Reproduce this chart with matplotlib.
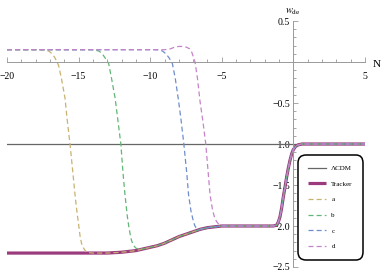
import matplotlib
matplotlib.use("Agg")
import matplotlib.pyplot as plt
from matplotlib.ticker import FixedLocator, MultipleLocator, NullFormatter

plt.rcParams.update({
    'font.family': 'serif',
    'font.serif': ['Liberation Serif', 'DejaVu Serif'],
    'mathtext.fontset': 'stix',
})

# values (N, w_de)
lcdm_N = [-20, 5]
lcdm_w = [-1.0, -1.0]

tracker_N = [-20, -13, -12, -11, -10.5, -10, -9.5, -9, -8.5, -8, -7.5, -7, -6.5,
             -6, -5.5, -5, -3, -1.4, -1.17, -1.05, -0.94, -0.82, -0.7, -0.58,
             -0.47, -0.35, -0.24, -0.12, -0.01, 0.15, 0.34, 0.6, 5]
tracker_w = [-2.33, -2.33, -2.32, -2.30, -2.28, -2.26, -2.24, -2.21, -2.17,
             -2.13, -2.10, -2.07, -2.04, -2.02, -2.01, -2.0, -2.0, -2.0, -1.99,
             -1.95, -1.89, -1.78, -1.64, -1.52, -1.40, -1.29, -1.20, -1.12,
             -1.07, -1.03, -1.01, -1.0, -1.0]

a_N = [-20, -17.6, -17.3, -17.05, -16.85, -16.65, -16.4, -16.2, -15.95, -15.8,
       -15.6, -15.4, -15.25, -15.1, -15.0, -14.9, -14.8, -14.65, -14.5, -14.3,
       -14.0]
a_w = [0.15, 0.15, 0.145, 0.13, 0.1, 0.05, -0.04, -0.2, -0.44, -0.7,
       -1.0, -1.35, -1.62, -1.85, -1.98, -2.12, -2.21, -2.27, -2.31, -2.325,
       -2.33]

b_N = [-20, -14.1, -13.8, -13.55, -13.35, -13.15, -12.9, -12.7, -12.45, -12.25,
       -12.05, -11.9, -11.76, -11.6, -11.5, -11.4, -11.3, -11.15, -11.0, -10.8]
b_w = [0.15, 0.15, 0.145, 0.13, 0.1, 0.05, -0.02, -0.2, -0.44, -0.72,
       -1.0, -1.35, -1.62, -1.88, -2.0, -2.1, -2.18, -2.24, -2.27, -2.28]

c_N = [-20, -9.7, -9.4, -9.15, -8.9, -8.68, -8.45, -8.25, -8.03, -7.85, -7.65,
       -7.45, -7.32, -7.15, -7.0, -6.9, -6.8, -6.6]
c_w = [0.15, 0.15, 0.148, 0.135, 0.1, 0.05, -0.02, -0.2, -0.46, -0.7, -1.0,
       -1.35, -1.62, -1.82, -1.93, -1.99, -2.02, -2.05]

d_N = [-20, -9.0, -8.6, -8.3, -8.0, -7.7, -7.45, -7.25, -7.1, -6.98, -6.87,
       -6.7, -6.52, -6.3, -6.12, -5.95, -5.82, -5.65, -5.5, -5.35, -5.2, -5.0]
d_w = [0.15, 0.15, 0.16, 0.18, 0.19, 0.19, 0.18, 0.16, 0.12, 0.06, 0.0,
       -0.2, -0.48, -0.75, -1.0, -1.35, -1.62, -1.8, -1.9, -1.95, -1.98, -2.0]

labels = ["a", "b", "c", "d"]
colors = ["#C8B270", "#62B676", "#6F8DCB", "#C583CA"]


def follow_tracker(N, w):
    # after merging the curves lie on top of the tracker
    tail = [(n, v) for n, v in zip(tracker_N, tracker_w) if n > N[-1]]
    return N + [t[0] for t in tail], w + [t[1] for t in tail]


fig = plt.figure(figsize=(3.82, 2.73), dpi=100)
ax = fig.add_axes([7 / 382, 6 / 273, 358 / 382, 246 / 273])

ax.plot(lcdm_N, lcdm_w, color="#666666", lw=0.9, label=r"ΛCDM")
ax.plot(tracker_N, tracker_w, color="#9B3A7C", lw=2.3, label="Tracker",
        solid_capstyle="butt", solid_joinstyle="round")
for lab, col, N, w in zip(labels, colors, [a_N, b_N, c_N, d_N],
                          [a_w, b_w, c_w, d_w]):
    NN, ww = follow_tracker(N, w)
    ax.plot(NN, ww, color=col, lw=0.9, ls=(0, (4, 2.5)), label=lab)

ax.set_xlim(-20, 5)
ax.set_ylim(-2.5, 0.5)
for s in ["top", "right"]:
    ax.spines[s].set_visible(False)
for s in ["left", "bottom"]:
    ax.spines[s].set_position(("data", 0))
    ax.spines[s].set_color("#999999")
    ax.spines[s].set_linewidth(0.7)

xt = [-20, -15, -10, -5, 5]
yt = [0.5, -0.5, -1.0, -1.5, -2.0, -2.5]
ax.xaxis.set_major_locator(FixedLocator(xt))
ax.set_xticklabels(["\u221220", "\u221215", "\u221210", "\u22125", "5"])
ax.xaxis.set_minor_locator(MultipleLocator(1))
ax.yaxis.set_major_locator(FixedLocator(yt))
ax.set_yticklabels(["0.5", "\u22120.5", "\u22121.0", "\u22121.5", "\u22122.0",
                    "\u22122.5"])
ax.yaxis.set_minor_locator(MultipleLocator(0.1))
ax.yaxis.set_minor_formatter(NullFormatter())
ax.tick_params(which="both", direction="in", color="#999999", width=0.6,
               labelsize=7)
ax.tick_params(which="major", length=3.5)
ax.tick_params(which="minor", length=2.2)
ax.tick_params(axis="x", which="major", pad=7)
ax.tick_params(axis="y", which="major", pad=2.5)

fig.text(377 / 382, 1 - 64 / 273, "N", ha="center", va="center", fontsize=8)
fig.text(293 / 382, 1 - 12 / 273, r"$w_{\rm de}$", ha="center", va="center",
         fontsize=7.5)

leg = ax.legend(loc="upper left", bbox_to_anchor=(298 / 382, 1 - 155 / 273),
                bbox_transform=fig.transFigure, fontsize=5, frameon=True,
                fancybox=True, framealpha=1, edgecolor="black",
                borderpad=1.5, labelspacing=1.4, handlelength=2.6,
                handletextpad=0.7, borderaxespad=0)
frame = leg.get_frame()
frame.set_linewidth(1.1)
frame.set_boxstyle("round", pad=0, rounding_size=1.1)

fig.savefig("out.png", dpi=100)
